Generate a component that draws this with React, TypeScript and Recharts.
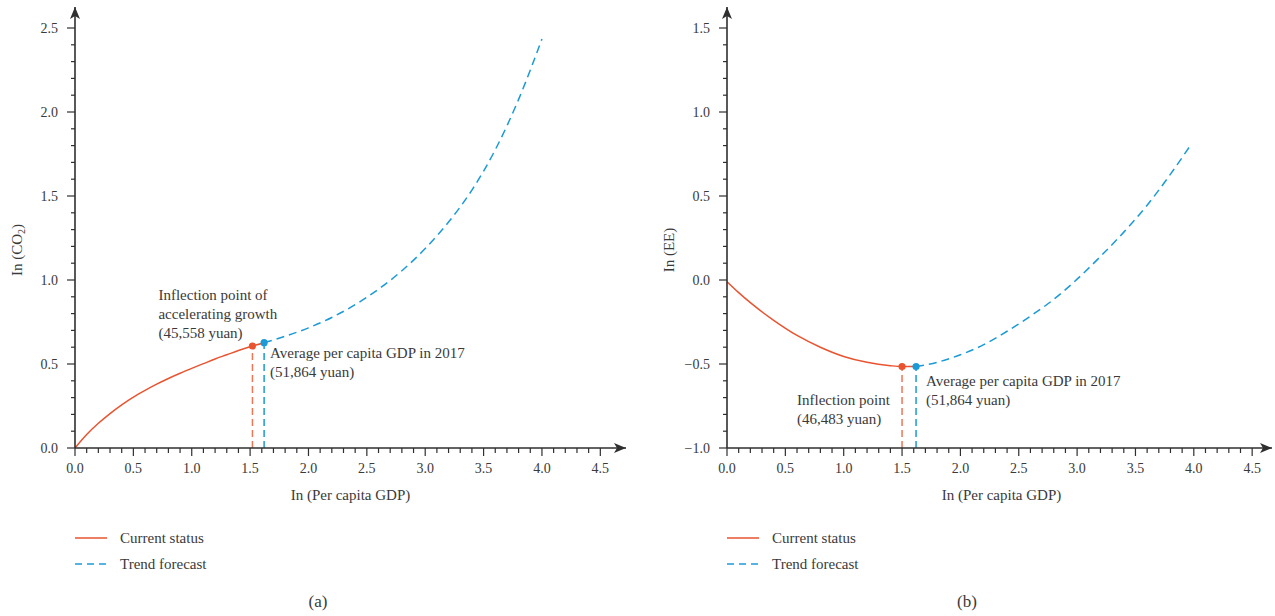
import React from 'react';
import { LineChart, Line, XAxis, YAxis, ReferenceDot, ReferenceLine } from 'recharts';

const FONT = "'Liberation Serif', 'Times New Roman', Times, serif";
const RED = '#E9532F';
const RED_DASH = '#EE7556';
const BLUE = '#1C9AD6';
const AXIS = '#2f2f2f';
const TEXT = '#3a3a3a';

// ---------- shared ----------
const xTickLabels = ['0.0', '0.5', '1.0', '1.5', '2.0', '2.5', '3.0', '3.5', '4.0', '4.5'];
const legendLabels = ['Current status', 'Trend forecast'];
const captions = ['(a)', '(b)'];
const gdp2017Text = ['Average per capita GDP in 2017', '(51,864 yuan)'];

// ---------- panel (a): ln(CO2) ----------
const co2YTickLabels = ['0.0', '0.5', '1.0', '1.5', '2.0', '2.5'];
const co2Current = [
  { x: 0, y: 0 }, { x: 0.1, y: 0.08 }, { x: 0.2, y: 0.147 }, { x: 0.3, y: 0.205 },
  { x: 0.4, y: 0.257 }, { x: 0.5, y: 0.303 }, { x: 0.6, y: 0.343 }, { x: 0.7, y: 0.38 },
  { x: 0.8, y: 0.414 }, { x: 0.9, y: 0.445 }, { x: 1.0, y: 0.474 }, { x: 1.1, y: 0.502 },
  { x: 1.2, y: 0.53 }, { x: 1.3, y: 0.555 }, { x: 1.4, y: 0.58 }, { x: 1.52, y: 0.607 },
  { x: 1.62, y: 0.627 },
];
const co2Forecast = [
  { x: 1.62, y: 0.627 }, { x: 1.8, y: 0.665 }, { x: 2.0, y: 0.715 }, { x: 2.2, y: 0.777 },
  { x: 2.4, y: 0.853 }, { x: 2.6, y: 0.945 }, { x: 2.8, y: 1.055 }, { x: 3.0, y: 1.187 },
  { x: 3.2, y: 1.345 }, { x: 3.4, y: 1.535 }, { x: 3.6, y: 1.775 }, { x: 3.8, y: 2.075 },
  { x: 4.0, y: 2.435 },
];
const co2Inflection = { x: 1.52, y: 0.607 };
const co2Gdp2017 = { x: 1.62, y: 0.627 };
const co2InflectionText = ['Inflection point of', 'accelerating growth', '(45,558 yuan)'];

// ---------- panel (b): ln(EE) ----------
const eeYTickLabels = ['\u22121.0', '\u22120.5', '0.0', '0.5', '1.0', '1.5'];
const eeCurrent = [
  { x: 0, y: -0.01 }, { x: 0.1, y: -0.075 }, { x: 0.2, y: -0.135 }, { x: 0.4, y: -0.24 },
  { x: 0.6, y: -0.33 }, { x: 0.8, y: -0.4 }, { x: 1.0, y: -0.455 }, { x: 1.2, y: -0.49 },
  { x: 1.4, y: -0.51 }, { x: 1.5, y: -0.515 }, { x: 1.62, y: -0.515 },
];
const eeForecast = [
  { x: 1.62, y: -0.515 }, { x: 1.8, y: -0.49 }, { x: 2.0, y: -0.445 }, { x: 2.2, y: -0.385 },
  { x: 2.4, y: -0.305 }, { x: 2.6, y: -0.215 }, { x: 2.8, y: -0.115 }, { x: 3.0, y: 0.005 },
  { x: 3.2, y: 0.14 }, { x: 3.4, y: 0.285 }, { x: 3.6, y: 0.445 }, { x: 3.8, y: 0.63 },
  { x: 3.96, y: 0.79 },
];
const eeInflection = { x: 1.5, y: -0.515 };
const eeGdp2017 = { x: 1.62, y: -0.515 };
const eeInflectionText = ['Inflection point', '(46,483 yuan)'];

// ---------- helpers ----------
const parseLabel = (s: string) => parseFloat(s.replace('\u2212', '-'));
const buildTicks = (labels: string[]) => {
  const majors = labels.map(parseLabel);
  const out: number[] = [];
  for (let i = 0; i < majors.length - 1; i++) {
    for (let k = 0; k < 5; k++) out.push(Math.round((majors[i] + (k * (majors[i + 1] - majors[i])) / 5) * 100) / 100);
  }
  out.push(majors[majors.length - 1]);
  return out;
};
const labelFor = (labels: string[], v: number) => {
  const idx = labels.map(parseLabel).findIndex((m) => Math.abs(m - v) < 1e-6);
  return idx >= 0 ? labels[idx] : null;
};

const makeXTick = (labels: string[]) => (props: any) => {
  const { x, y, payload } = props;
  const lab = labelFor(labels, payload.value);
  return (
    <g>
      <line x1={x} x2={x} y1={y} y2={y + (lab ? 8 : 5)} stroke={AXIS} strokeWidth={1.2} />
      {lab && (
        <text x={x} y={y + 25} textAnchor="middle" fontSize={14} fill={TEXT} fontFamily={FONT}>
          {lab}
        </text>
      )}
    </g>
  );
};

const makeYTick = (labels: string[]) => (props: any) => {
  const { x, y, payload } = props;
  const lab = labelFor(labels, payload.value);
  return (
    <g>
      <line x1={x - (lab ? 8 : 4)} x2={x} y1={y} y2={y} stroke={AXIS} strokeWidth={1.2} />
      {lab && (
        <text x={x - 17} y={y + 5} textAnchor="end" fontSize={14} fill={TEXT} fontFamily={FONT}>
          {lab}
        </text>
      )}
    </g>
  );
};

const annotatedDot = (color: string, lines: string[], dx: number, dy: number) => (p: any) => (
  <g>
    <circle cx={p.cx} cy={p.cy} r={3.6} fill={color} />
    <text fontSize={15} fill={TEXT} fontFamily={FONT}>
      {lines.map((l, i) => (
        <tspan key={i} x={p.cx + dx} y={p.cy + dy + i * 19}>
          {l}
        </tspan>
      ))}
    </text>
  </g>
);

const arrowRight = (p: any) => (
  <polygon points={`${p.cx},${p.cy} ${p.cx - 12},${p.cy - 5} ${p.cx - 9},${p.cy} ${p.cx - 12},${p.cy + 5}`} fill={AXIS} />
);
const arrowUp = (p: any) => (
  <polygon points={`${p.cx},${p.cy} ${p.cx - 5},${p.cy + 12} ${p.cx},${p.cy + 9} ${p.cx + 5},${p.cy + 12}`} fill={AXIS} />
);

type PanelProps = {
  left: number;
  width: number;
  marginRight: number;
  xMax: number;
  yLabels: string[];
  yDomain: [number, number];
  yTitle: React.ReactNode;
  current: { x: number; y: number }[];
  forecast: { x: number; y: number }[];
  inflection: { x: number; y: number };
  gdp: { x: number; y: number };
  inflText: string[];
  inflDx: number;
  inflDy: number;
  gdpDx: number;
  gdpDy: number;
  xTitleDx: number;
};

function Panel(pp: PanelProps) {
  const [yMin, yMax] = pp.yDomain;
  const xTicks = buildTicks(xTickLabels);
  const yTicks = buildTicks(pp.yLabels);
  return (
    <div style={{ position: 'absolute', left: pp.left, top: 0 }}>
      <LineChart width={pp.width} height={616} margin={{ top: 7, right: pp.marginRight, bottom: 108, left: 0 }}>
        <XAxis
          type="number"
          dataKey="x"
          domain={[0, pp.xMax]}
          allowDataOverflow
          ticks={xTicks}
          interval={0}
          tickSize={0}
          tickMargin={0}
          tickLine={false}
          axisLine={{ stroke: AXIS, strokeWidth: 1.6 }}
          tick={makeXTick(xTickLabels)}
          height={60}
          label={{
            content: (lp: any) => {
              const vb = lp.viewBox || { x: 75, y: 448, width: 550 };
              return (
                <text x={vb.x + vb.width / 2 + pp.xTitleDx} y={vb.y + 52} textAnchor="middle" fontSize={15} fill={TEXT} fontFamily={FONT}>
                  In (Per capita GDP)
                </text>
              );
            },
          }}
        />
        <YAxis
          type="number"
          dataKey="y"
          domain={[yMin, yMax]}
          allowDataOverflow
          ticks={yTicks}
          interval={0}
          tickSize={0}
          tickMargin={0}
          tickLine={false}
          axisLine={{ stroke: AXIS, strokeWidth: 1.6 }}
          tick={makeYTick(pp.yLabels)}
          width={75}
          label={{
            content: () => (
              <text
                transform="translate(17,250) rotate(-90)"
                textAnchor="middle"
                dominantBaseline="central"
                fontSize={15}
                fill={TEXT}
                fontFamily={FONT}
              >
                {pp.yTitle}
              </text>
            ),
          }}
        />
        <Line data={pp.current} dataKey="y" type="monotone" stroke={RED} strokeWidth={1.5} dot={false} isAnimationActive={false} />
        <Line
          data={pp.forecast}
          dataKey="y"
          type="monotone"
          stroke={BLUE}
          strokeWidth={1.5}
          strokeDasharray="8 5"
          dot={false}
          isAnimationActive={false}
        />
        <ReferenceLine
          segment={[{ x: pp.inflection.x, y: yMin }, { x: pp.inflection.x, y: pp.inflection.y }]}
          stroke={RED_DASH}
          strokeWidth={1.5}
          strokeDasharray="7 4"
        />
        <ReferenceLine
          segment={[{ x: pp.gdp.x, y: yMin }, { x: pp.gdp.x, y: pp.gdp.y }]}
          stroke={BLUE}
          strokeWidth={1.5}
          strokeDasharray="7 4"
        />
        <ReferenceDot x={pp.inflection.x} y={pp.inflection.y} r={4} shape={annotatedDot(RED, pp.inflText, pp.inflDx, pp.inflDy)} />
        <ReferenceDot x={pp.gdp.x} y={pp.gdp.y} r={4} shape={annotatedDot(BLUE, gdp2017Text, pp.gdpDx, pp.gdpDy)} />
        <ReferenceDot x={pp.xMax} y={yMin} r={5} ifOverflow="visible" shape={arrowRight} />
        <ReferenceDot x={0} y={yMax} r={5} ifOverflow="visible" shape={arrowUp} />
      </LineChart>
    </div>
  );
}

function Overlay() {
  const rows = [
    { lx: 75, tx: 120 },
    { lx: 727, tx: 772 },
  ];
  return (
    <svg width={1275} height={616} style={{ position: 'absolute', left: 0, top: 0, pointerEvents: 'none' }}>
      {rows.map((r, i) => (
        <g key={i}>
          <line x1={r.lx} x2={r.lx + 32} y1={538} y2={538} stroke={RED} strokeWidth={1.5} />
          <text x={r.tx} y={543} fontSize={15} fill={TEXT} fontFamily={FONT}>
            {legendLabels[0]}
          </text>
          <line x1={r.lx} x2={r.lx + 32} y1={564} y2={564} stroke={BLUE} strokeWidth={1.5} strokeDasharray="7 5" />
          <text x={r.tx} y={569} fontSize={15} fill={TEXT} fontFamily={FONT}>
            {legendLabels[1]}
          </text>
        </g>
      ))}
      <text x={318} y={607} textAnchor="middle" fontSize={17} fill={TEXT} fontFamily={FONT}>
        {captions[0]}
      </text>
      <text x={967} y={607} textAnchor="middle" fontSize={17} fill={TEXT} fontFamily={FONT}>
        {captions[1]}
      </text>
    </svg>
  );
}

export default function App() {
  return (
    <div style={{ position: 'absolute', left: 0, top: 0, width: 1275, height: 616, background: '#fff', overflow: 'hidden' }}>
      <Overlay />
      <Panel
        left={0}
        width={640}
        marginRight={14}
        xMax={4.72}
        yLabels={co2YTickLabels}
        yDomain={[0, 2.625]}
        yTitle={
          <>
            In (CO<tspan fontSize={10} dy={4}>2</tspan>
            <tspan dy={-4}>)</tspan>
          </>
        }
        current={co2Current}
        forecast={co2Forecast}
        inflection={co2Inflection}
        gdp={co2Gdp2017}
        inflText={co2InflectionText}
        inflDx={-94}
        inflDy={-46}
        gdpDx={6}
        gdpDy={15}
        xTitleDx={0}
      />
      <Panel
        left={652}
        width={623}
        marginRight={3}
        xMax={4.67}
        yLabels={eeYTickLabels}
        yDomain={[-1, 1.625]}
        yTitle="In (EE)"
        current={eeCurrent}
        forecast={eeForecast}
        inflection={eeInflection}
        gdp={eeGdp2017}
        inflText={eeInflectionText}
        inflDx={-105}
        inflDy={38.5}
        gdpDx={10}
        gdpDy={19}
        xTitleDx={2}
      />
    </div>
  );
}
